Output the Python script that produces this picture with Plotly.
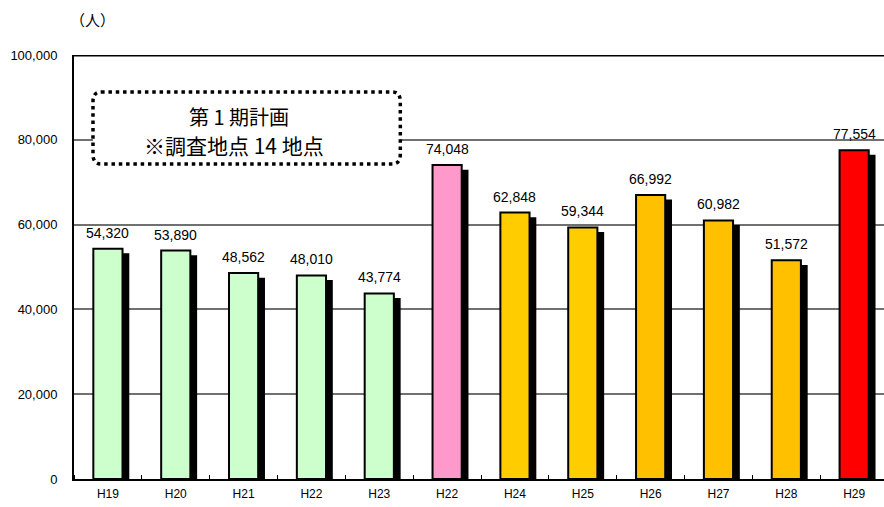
import plotly.graph_objects as go

# Annual visitor counts (persons)
years = ["H19", "H20", "H21", "H22", "H23", "H22", "H24", "H25", "H26", "H27", "H28", "H29"]
visitors = [54320, 53890, 48562, 48010, 43774, 74048, 62848, 59344, 66992, 60982, 51572, 77554]
bar_colors = ["#CCFFCC"] * 5 + ["#FF99CC"] + ["#FFCC00"] * 2 + ["#FFC000"] * 3 + ["#FF0000"]
y_ticks = [0, 20000, 40000, 60000, 80000, 100000]

xs = list(range(len(years)))
BAR_W = 0.43
SHADOW_DX = 0.10
SHADOW_DROP = 1100

fig = go.Figure()

# drop shadow behind each bar
fig.add_trace(go.Bar(
    x=xs, y=visitors, base=-SHADOW_DROP, width=BAR_W, offset=-BAR_W / 2 + SHADOW_DX,
    marker=dict(color="black", line=dict(width=0)), hoverinfo="skip", showlegend=False,
))
# main bars
fig.add_trace(go.Bar(
    x=xs, y=visitors, width=BAR_W, offset=-BAR_W / 2,
    marker=dict(color=bar_colors, line=dict(color="black", width=2)),
    showlegend=False,
))

annotations = []
for i, v in zip(xs, visitors):
    annotations.append(dict(
        x=i, y=v, xref="x", yref="y", text=f"{v:,}", showarrow=False,
        yanchor="bottom", yshift=6,
        font=dict(family="Liberation Sans, Arial", size=14, color="black"),
    ))

annotations.append(dict(
    x=0.023, y=1.083, xref="paper", yref="paper", text="（人）", showarrow=False,
    xanchor="center", yanchor="middle",
    font=dict(family="Noto Sans CJK JP", size=15, color="black"),
))
annotations.append(dict(
    x=1.93, y=85600, xref="x", yref="y", text="第 1 期計画", showarrow=False,
    xanchor="center", yanchor="middle",
    font=dict(family="Noto Sans CJK JP", size=20, color="black"),
))
annotations.append(dict(
    x=1.86, y=78800, xref="x", yref="y", text="※調査地点 14 地点", showarrow=False,
    xanchor="center", yanchor="middle",
    font=dict(family="Noto Sans CJK JP", size=21, color="black"),
))

# rounded dotted frame around the plan note
x0, x1, y0, y1 = -0.22, 4.31, 74300, 91300
rx, ry = 0.12, 2300
frame_path = (
    f"M {x0 + rx},{y1} L {x1 - rx},{y1} Q {x1},{y1} {x1},{y1 - ry} "
    f"L {x1},{y0 + ry} Q {x1},{y0} {x1 - rx},{y0} "
    f"L {x0 + rx},{y0} Q {x0},{y0} {x0},{y0 + ry} "
    f"L {x0},{y1 - ry} Q {x0},{y1} {x0 + rx},{y1} Z"
)

shapes = [
    dict(type="path", path=frame_path, xref="x", yref="y",
         line=dict(color="black", width=3.5, dash="3.5px,3.8px"), fillcolor="white", layer="above"),
    dict(type="line", xref="paper", yref="y", x0=0, x1=1, y0=100000, y1=100000,
         line=dict(color="black", width=3), layer="above"),
]

fig.update_layout(
    width=884, height=507,
    margin=dict(l=74, r=0, t=55, b=28),
    paper_bgcolor="white", plot_bgcolor="white",
    barmode="overlay",
    annotations=annotations,
    shapes=shapes,
    xaxis=dict(
        range=[-0.5, 11.44], tickvals=xs, ticktext=years,
        ticks="outside", ticklen=3, tickcolor="rgba(0,0,0,0)",
        showgrid=False, zeroline=False,
        showline=True, linecolor="black", linewidth=2,
        tickfont=dict(family="Liberation Sans, Arial", size=12, color="black"),
        minor=dict(tick0=-0.5, dtick=1, ticks="inside", ticklen=4, tickcolor="black", tickwidth=1, showgrid=False),
    ),
    yaxis=dict(
        range=[0, 100000], tickvals=y_ticks, tickformat=",",
        ticks="outside", ticklen=12, tickcolor="rgba(0,0,0,0)",
        showgrid=True, gridcolor="#707070", gridwidth=1.5,
        zeroline=False, showline=True, linecolor="black", linewidth=2,
        tickfont=dict(family="Liberation Sans, Arial", size=13, color="black"),
    ),
)

fig.write_html("out.html")
